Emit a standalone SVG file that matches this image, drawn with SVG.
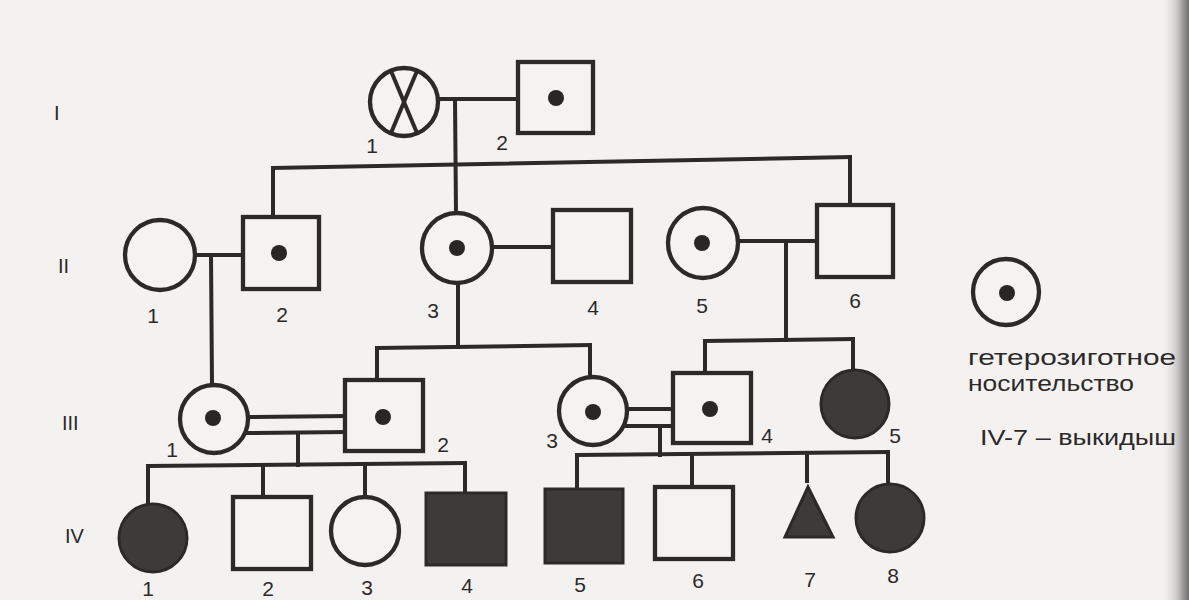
<svg xmlns="http://www.w3.org/2000/svg" width="1189" height="600" viewBox="0 0 1189 600">
<defs>
<linearGradient id="edge" x1="0" y1="0" x2="1" y2="0">
<stop offset="0" stop-color="#f3f2f1" stop-opacity="0"/>
<stop offset="0.6" stop-color="#c9c6c5"/>
<stop offset="1" stop-color="#6f6b6b"/>
</linearGradient>
</defs>
<style>
.ln{fill:none;stroke:#2e2929;stroke-width:4;stroke-linecap:square}
.sh{fill:#f4f3f2;stroke:#2e2929;stroke-width:4.3}
.af{fill:#3f3a3a;stroke:#2e2929;stroke-width:3}
.dot{fill:#2a2626}
.num{font-family:"Liberation Sans",Arial,sans-serif;font-size:21px;fill:#2e2929;text-anchor:middle}
.gen{font-family:"Liberation Sans",Arial,sans-serif;font-size:20px;fill:#2e2929}
.leg{font-family:"Liberation Sans",Arial,sans-serif;font-size:22px;fill:#2e2929}
</style>
<rect width="1189" height="600" fill="#f3f2f1"/>
<rect x="1160" y="0" width="29" height="600" fill="url(#edge)"/>

<g id="generation-labels">
<text class="gen" x="54" y="120">I</text>
<text class="gen" x="58" y="273">II</text>
<text class="gen" x="62" y="430">III</text>
<text class="gen" x="65" y="543">IV</text>
</g>

<g id="connectors">
<line class="ln" x1="438" y1="99" x2="518" y2="99"/>
<line class="ln" x1="455" y1="99" x2="456" y2="213"/>
<line class="ln" x1="273" y1="168" x2="850" y2="157"/>
<line class="ln" x1="273" y1="168" x2="273" y2="217"/>
<line class="ln" x1="850" y1="157" x2="850" y2="205"/>
<line class="ln" x1="195" y1="255" x2="243" y2="255"/>
<line class="ln" x1="211" y1="255" x2="212" y2="385"/>
<line class="ln" x1="492" y1="247" x2="553" y2="247"/>
<line class="ln" x1="458" y1="283" x2="458" y2="347"/>
<line class="ln" x1="377" y1="348" x2="590" y2="345"/>
<line class="ln" x1="377" y1="348" x2="377" y2="380"/>
<line class="ln" x1="590" y1="345" x2="590" y2="377"/>
<line class="ln" x1="738" y1="241" x2="817" y2="241"/>
<line class="ln" x1="786" y1="241" x2="786" y2="340"/>
<line class="ln" x1="705" y1="341" x2="853" y2="339"/>
<line class="ln" x1="705" y1="341" x2="705" y2="373"/>
<line class="ln" x1="853" y1="339" x2="853" y2="370"/>
<line class="ln" x1="248" y1="417" x2="345" y2="416"/>
<line class="ln" x1="245" y1="433" x2="345" y2="432"/>
<line class="ln" x1="298" y1="433" x2="298" y2="465"/>
<line class="ln" x1="148" y1="466" x2="465" y2="463"/>
<line class="ln" x1="148" y1="466" x2="148" y2="503"/>
<line class="ln" x1="263" y1="465" x2="263" y2="497"/>
<line class="ln" x1="365" y1="464" x2="365" y2="496"/>
<line class="ln" x1="465" y1="463" x2="465" y2="493"/>
<line class="ln" x1="627" y1="409" x2="673" y2="409"/>
<line class="ln" x1="624" y1="426" x2="673" y2="426"/>
<line class="ln" x1="660" y1="426" x2="660" y2="455"/>
<line class="ln" x1="577" y1="455" x2="888" y2="452"/>
<line class="ln" x1="577" y1="455" x2="577" y2="489"/>
<line class="ln" x1="692" y1="454" x2="692" y2="487"/>
<line class="ln" x1="807" y1="453" x2="807" y2="481"/>
<line class="ln" x1="888" y1="452" x2="888" y2="483"/>
</g>

<g id="I-1">
<circle class="sh" cx="404" cy="102" r="34"/>
<line class="ln" x1="391" y1="71" x2="417" y2="133" style="stroke-linecap:butt"/>
<line class="ln" x1="417" y1="71" x2="391" y2="133" style="stroke-linecap:butt"/>
<text class="num" x="372" y="153">1</text>
</g>
<g id="I-2">
<rect class="sh" x="518" y="62" width="75" height="71"/>
<circle class="dot" cx="556" cy="98" r="8"/>
<text class="num" x="502" y="150">2</text>
</g>

<g id="II-1">
<circle class="sh" cx="160" cy="255" r="35"/>
<text class="num" x="153" y="323">1</text>
</g>
<g id="II-2">
<rect class="sh" x="243" y="217" width="76" height="72"/>
<circle class="dot" cx="279" cy="253" r="8"/>
<text class="num" x="282" y="322">2</text>
</g>
<g id="II-3">
<circle class="sh" cx="457" cy="248" r="35"/>
<circle class="dot" cx="457" cy="248" r="8"/>
<text class="num" x="433" y="318">3</text>
</g>
<g id="II-4">
<rect class="sh" x="553" y="210" width="78" height="72"/>
<text class="num" x="593" y="315">4</text>
</g>
<g id="II-5">
<circle class="sh" cx="703" cy="243" r="35"/>
<circle class="dot" cx="702" cy="243" r="8"/>
<text class="num" x="702" y="313">5</text>
</g>
<g id="II-6">
<rect class="sh" x="817" y="205" width="76" height="72"/>
<text class="num" x="855" y="308">6</text>
</g>

<g id="III-1">
<circle class="sh" cx="214" cy="419" r="34"/>
<circle class="dot" cx="213" cy="418" r="8"/>
<text class="num" x="172" y="457">1</text>
</g>
<g id="III-2">
<rect class="sh" x="345" y="380" width="78" height="71"/>
<circle class="dot" cx="383" cy="417" r="8"/>
<text class="num" x="443" y="452">2</text>
</g>
<g id="III-3">
<circle class="sh" cx="593" cy="411" r="34"/>
<circle class="dot" cx="593" cy="412" r="8"/>
<text class="num" x="552" y="448">3</text>
</g>
<g id="III-4">
<rect class="sh" x="673" y="373" width="78" height="70"/>
<circle class="dot" cx="710" cy="409" r="8"/>
<text class="num" x="767" y="443">4</text>
</g>
<g id="III-5">
<circle class="af" cx="855" cy="404" r="34"/>
<text class="num" x="895" y="443">5</text>
</g>

<g id="IV-1">
<circle class="af" cx="153" cy="538" r="34"/>
<text class="num" x="148" y="596">1</text>
</g>
<g id="IV-2">
<rect class="sh" x="233" y="497" width="78" height="72"/>
<text class="num" x="268" y="596">2</text>
</g>
<g id="IV-3">
<circle class="sh" cx="365" cy="531" r="34"/>
<text class="num" x="367" y="595">3</text>
</g>
<g id="IV-4">
<rect class="af" x="426" y="493" width="80" height="72"/>
<text class="num" x="467" y="593">4</text>
</g>
<g id="IV-5">
<rect class="af" x="545" y="489" width="78" height="74"/>
<text class="num" x="580" y="592">5</text>
</g>
<g id="IV-6">
<rect class="sh" x="655" y="487" width="78" height="72"/>
<text class="num" x="698" y="588">6</text>
</g>
<g id="IV-7">
<polygon class="af" points="808,487 785,537 833,537"/>
<text class="num" x="810" y="587">7</text>
</g>
<g id="IV-8">
<circle class="af" cx="890" cy="518" r="34"/>
<text class="num" x="893" y="583">8</text>
</g>

<g id="legend">
<circle class="sh" cx="1006" cy="292" r="33"/>
<circle class="dot" cx="1007" cy="293" r="8"/>
<text class="leg" x="968" y="365" textLength="208" lengthAdjust="spacingAndGlyphs">гетерозиготное</text>
<text class="leg" x="968" y="391" textLength="166" lengthAdjust="spacingAndGlyphs">носительство</text>
<text class="leg" x="980" y="445" textLength="196" lengthAdjust="spacingAndGlyphs">IV-7 – выкидыш</text>
</g>
</svg>
